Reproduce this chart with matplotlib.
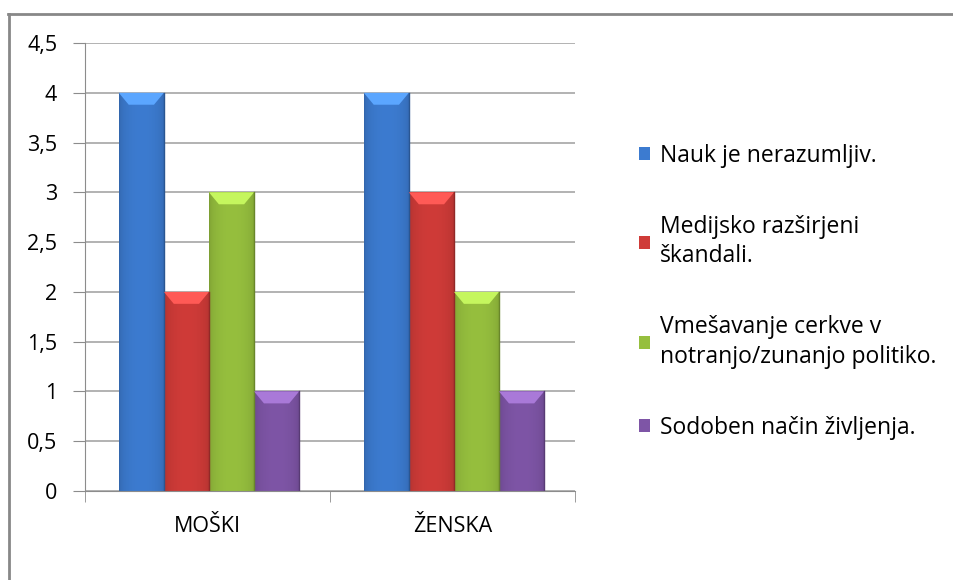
import numpy as np
import matplotlib
matplotlib.use("Agg")
import matplotlib.pyplot as plt
from matplotlib.colors import to_rgb
from matplotlib.lines import Line2D
from matplotlib.patches import Polygon

plt.rcParams['font.family'] = ['Open Sans', 'DejaVu Sans']

# data
categories = ['MOŠKI', 'ŽENSKA']
series = ['Nauk je nerazumljiv.',
          'Medijsko razširjeni\nškandali.',
          'Vmešavanje cerkve v\nnotranjo/zunanjo politiko.',
          'Sodoben način življenja.']
values = [[4, 4],   # Nauk je nerazumljiv.
          [2, 3],   # Medijsko razširjeni škandali.
          [3, 2],   # Vmešavanje cerkve ...
          [1, 1]]   # Sodoben način življenja.
colors = ['#3C7BD0', '#CF3B38', '#96BF3E', '#7E55A6']
yticks = [0, 0.5, 1, 1.5, 2, 2.5, 3, 3.5, 4, 4.5]

fs = 15.5
lfs = 16.5
fig = plt.figure(figsize=(9.54, 5.8), dpi=100)
ax = fig.add_axes([85/954, 89/580, 490/954, 448/580])

x = np.arange(len(categories))
w = 0.184
bars = []
for i, (name, vals, c) in enumerate(zip(series, values, colors)):
    pos = x + (i - 1.5) * w + 0.006
    b = ax.bar(pos, vals, w, color=c, label=name, zorder=3, linewidth=0)
    bars.append(b)
    base = np.array(to_rgb(c))
    # horizontal shading for bevel look
    t = np.linspace(0, 1, 60)
    shade = 0.82 + 0.18 * np.sin(np.pi * t) ** 0.4
    img = np.clip(base[None, None, :] * shade[None, :, None], 0, 1)
    for rect in b:
        x0, h = rect.get_x(), rect.get_height()
        im = ax.imshow(img, extent=(x0, x0 + w, 0, h), aspect='auto',
                       zorder=3.5, interpolation='bilinear')
        im.set_clip_path(rect)
        dx, dy = w * 0.22, 0.12
        top = np.clip(base * 1.18 + 0.08, 0, 1)
        ax.add_patch(Polygon([(x0, h), (x0 + w, h), (x0 + w - dx, h - dy),
                              (x0 + dx, h - dy)], closed=True,
                             facecolor=top, edgecolor='none', zorder=4))
        ax.plot([x0 + w, x0 + w], [0, h], color=base * 0.7, lw=1, zorder=4)

ax.set_xlim(-0.5, 1.5)
ax.set_ylim(0, 4.5)
ax.set_yticks(yticks)
ax.set_yticklabels([('%g' % v).replace('.', ',') for v in yticks], fontsize=fs)
ax.set_xticks(x)
ax.set_xticklabels(categories, fontsize=fs)
ax.set_xticks([-0.5, 0.5, 1.5], minor=True)
ax.tick_params(axis='x', which='major', length=0, pad=18)
ax.tick_params(axis='x', which='minor', length=8, color='#8C8C8C')
ax.tick_params(axis='y', length=9, color='#8C8C8C', pad=11)
ax.grid(axis='y', color='#A6A6A6', lw=1.2, zorder=0)
for s in ['top', 'right']:
    ax.spines[s].set_visible(False)
for s in ['left', 'bottom']:
    ax.spines[s].set_color('#8C8C8C')
    ax.spines[s].set_zorder(5)

leg = fig.legend(handles=[b[0] for b in bars], labels=series,
                 loc='center left', bbox_to_anchor=(639/954, 0.497),
                 frameon=False, fontsize=lfs, borderaxespad=0, borderpad=0,
                 handlelength=0.5, handleheight=0.5, handletextpad=0.4,
                 labelspacing=2.05)
for t in leg.get_texts():
    t.set_linespacing(1.3)

# chart border (top and left visible)
fig.add_artist(Line2D([8/954, 1], [1 - 14/580] * 2, color='#888888', lw=2))
fig.add_artist(Line2D([9/954] * 2, [0, 1 - 14/580], color='#888888', lw=2))

fig.savefig('out.png', dpi=100)
